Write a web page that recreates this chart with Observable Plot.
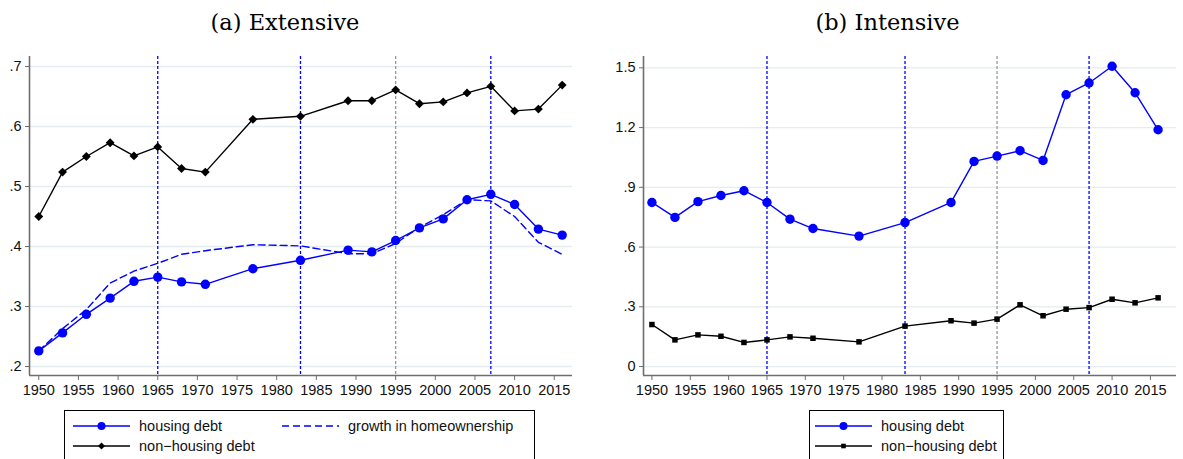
<!DOCTYPE html>
<html><head><meta charset="utf-8">
<script src="https://cdn.jsdelivr.net/npm/d3@7"></script>
<script src="https://cdn.jsdelivr.net/npm/@observablehq/plot@0.6"></script>
<style>
body{margin:0;background:#fff;width:1183px;height:459px;overflow:hidden;position:relative;font-family:"Liberation Sans",Arial,sans-serif;}
.title{position:absolute;top:8px;font-family:"DejaVu Serif","Liberation Serif",serif;font-size:22.5px;font-weight:300;line-height:28px;text-align:center;color:#000;}
.panel{position:absolute;top:45px;}
.legend{position:absolute;top:410px;}
</style></head><body>
<div class="title" style="left:0;width:570px;">(a) Extensive</div>
<div class="title" style="left:590px;width:595px;">(b) Intensive</div>
<div id="p1" class="panel" style="left:0;"></div>
<div id="p2" class="panel" style="left:590px;"></div>
<div id="l1" class="legend" style="left:64px;"></div>
<div id="l2" class="legend" style="left:809px;"></div>
<script>
const years = [1950,1953,1956,1959,1962,1965,1968,1971,1977,1983,1989,1992,1995,1998,2001,2004,2007,2010,2013,2016];
const extHousing = [0.226,0.256,0.287,0.314,0.342,0.349,0.341,0.337,0.363,0.377,0.394,0.391,0.410,0.431,0.446,0.478,0.487,0.470,0.429,0.419];
const extNonHousing = [0.450,0.524,0.550,0.573,0.551,0.566,0.530,0.524,0.612,0.617,0.643,0.643,0.661,0.638,0.641,0.656,0.667,0.626,0.629,0.669];
const extHomeownership = [0.226,0.263,0.295,0.339,0.359,0.372,0.387,0.393,0.403,0.401,0.388,0.388,0.405,0.432,0.453,0.478,0.476,0.450,0.407,0.387];
const intHousing = [0.824,0.749,0.828,0.859,0.883,0.824,0.740,0.693,0.655,0.723,0.824,1.030,1.057,1.084,1.035,1.365,1.424,1.508,1.375,1.189];
const intNonHousing = [0.211,0.134,0.159,0.152,0.121,0.134,0.149,0.142,0.124,0.203,0.230,0.218,0.238,0.310,0.255,0.288,0.296,0.338,0.320,0.345];
const blueEventYears = [1965,1983,2007];
const grayEventYears = [1995];
const xTicks = [1950,1955,1960,1965,1970,1975,1980,1985,1990,1995,2000,2005,2010,2015];
const extYTicks = [0.2,0.3,0.4,0.5,0.6,0.7];
const intYTicks = [0,0.3,0.6,0.9,1.2,1.5];
const legendLabels = ["housing debt","growth in homeownership","non\u2212housing debt"];

const BLUE = "#0000ff";
const fmt = d => d === 0 ? "0" : String(+d.toFixed(1)).replace(/^0\./, ".");

function panel({width, marginLeft, marginRight, xDomain, yDomain, yTicks, series}) {
  const marks = [
    Plot.gridY(yTicks, {stroke: "#e4edef", strokeOpacity: 1, strokeWidth: 1.3}),
    Plot.ruleX(grayEventYears, {stroke: "#999999", strokeWidth: 1.3, strokeDasharray: "3,2"}),
    Plot.ruleX(blueEventYears, {stroke: BLUE, strokeWidth: 1.3, strokeDasharray: "3,2"}),
    Plot.ruleX([xDomain[0]], {stroke: "#6e6e6e", strokeWidth: 1.6}),
    Plot.ruleY([yDomain[0]], {stroke: "#6e6e6e", strokeWidth: 1.6}),
    Plot.axisX(xTicks, {tickSize: 5, tickPadding: 4, stroke: "#6e6e6e", fill: "#111", label: null, tickFormat: d => String(d)}),
    Plot.axisY(yTicks, {tickSize: 4, tickPadding: 4, stroke: "#6e6e6e", fill: "#111", label: null, tickFormat: fmt})
  ];
  for (const s of series) {
    const data = years.map((y, i) => ({year: y, v: s.values[i]}));
    marks.push(Plot.line(data, {x: "year", y: "v", stroke: s.color, strokeWidth: 1.4, strokeDasharray: s.dash}));
    if (s.symbol) marks.push(Plot.dot(data, {x: "year", y: "v", symbol: s.symbol, r: s.r, fill: s.color, stroke: "none"}));
  }
  return Plot.plot({
    width, height: 360, marginLeft, marginRight, marginTop: 11, marginBottom: 30,
    x: {domain: xDomain, label: null},
    y: {domain: yDomain, label: null},
    style: {fontFamily: "'Liberation Sans', Arial, sans-serif", fontSize: "14.5px", background: "transparent", overflow: "visible"},
    marks
  });
}

document.getElementById("p1").append(panel({
  width: 590, marginLeft: 29, marginRight: 18,
  xDomain: [1948.83, 2017.3], yDomain: [0.185, 0.7167], yTicks: extYTicks,
  series: [
    {values: extHomeownership, color: BLUE, dash: "7,4"},
    {values: extNonHousing, color: "#000", symbol: "diamond2", r: 4},
    {values: extHousing, color: BLUE, symbol: "circle", r: 4.7}
  ]
}));
document.getElementById("p2").append(panel({
  width: 593, marginLeft: 53, marginRight: 7,
  xDomain: [1948.9, 2018.4], yDomain: [-0.045, 1.557], yTicks: intYTicks,
  series: [
    {values: intNonHousing, color: "#000", symbol: "square", r: 3.1},
    {values: intHousing, color: BLUE, symbol: "circle", r: 4.7}
  ]
}));

function symbolPath(type, r) {
  const sym = {circle: d3.symbolCircle, diamond2: d3.symbolDiamond2, square: d3.symbolSquare}[type];
  return d3.symbol(sym, Math.PI * r * r)();
}
function legend(el, width, height, items) {
  const svg = d3.create("svg").attr("width", width).attr("height", height)
    .style("font-family", "'Liberation Sans', Arial, sans-serif").style("font-size", "14.5px");
  svg.append("rect").attr("x", 0.5).attr("y", 0.5).attr("width", width - 1).attr("height", height - 1)
    .attr("fill", "#fff").attr("stroke", "#000").attr("stroke-width", 1);
  for (const it of items) {
    svg.append("line").attr("x1", it.x).attr("x2", it.x + 57).attr("y1", it.y).attr("y2", it.y)
      .attr("stroke", it.color).attr("stroke-width", 1.4).attr("stroke-dasharray", it.dash || null);
    if (it.symbol) svg.append("path").attr("d", symbolPath(it.symbol, it.r))
      .attr("transform", `translate(${it.x + 28.5},${it.y})`).attr("fill", it.color);
    svg.append("text").attr("x", it.x + 66).attr("y", it.y).attr("dy", "0.35em").attr("fill", "#111").text(it.label);
  }
  document.getElementById(el).append(svg.node());
}
legend("l1", 471, 60, [
  {x: 9, y: 16, color: BLUE, symbol: "circle", r: 4, label: legendLabels[0]},
  {x: 218, y: 16, color: BLUE, dash: "7,4", label: legendLabels[1]},
  {x: 9, y: 36, color: "#000", symbol: "diamond2", r: 3.2, label: legendLabels[2]}
]);
legend("l2", 195, 60, [
  {x: 6, y: 16, color: BLUE, symbol: "circle", r: 4, label: legendLabels[0]},
  {x: 6, y: 36, color: "#000", symbol: "square", r: 2.6, label: legendLabels[2]}
]);
</script>
</body></html>
